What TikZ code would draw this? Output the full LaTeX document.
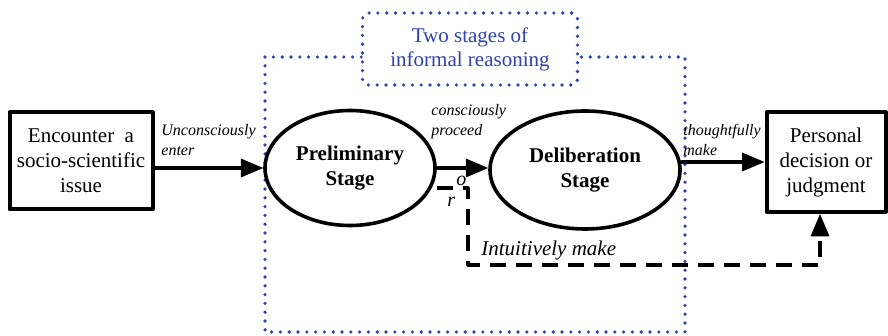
\documentclass[tikz,border=0pt]{standalone}
\usepackage{fontspec}
\setmainfont{Liberation Serif}
\usetikzlibrary{arrows,shapes.geometric}
\definecolor{dotblue}{RGB}{48,66,172}

\begin{document}
\begin{tikzpicture}[line cap=round,line join=round,>=triangle 45,x=0.5pt,y=-0.5pt,
	stbox/.style={draw,line width=2pt,align=center,inner sep=0pt,font=\fontsize{10.5}{12.5}\selectfont},
	stage/.style={draw,ellipse,line width=1.8pt,align=center,inner sep=0pt,font=\fontsize{10.5}{12.5}\selectfont\bfseries},
	flow/.style={->,line width=1.6pt},
	intu/.style={->,line width=1.6pt,dash pattern=on 8pt off 5pt,line cap=butt},
	lbl/.style={anchor=west,align=left,inner sep=0pt,font=\fontsize{8}{10}\selectfont\itshape},
	dotline/.style={dotblue,line width=1.8pt,dash pattern=on 0pt off 4.4pt,line cap=round}]
	\useasboundingbox (0,0) rectangle (888,336);
	% region of the two stages
	\draw [dotline] (265,57) rectangle (685,332);
	\node [dotline,draw,fill=white,rounded corners=3pt,minimum width=107.5pt,minimum height=36pt,align=center,
		text=dotblue,font=\fontsize{10.5}{12}\selectfont] (title) at (470,49) {Two stages of\\informal reasoning};
	% boxes and stages
	\node [stbox,minimum width=71.5pt,minimum height=48.5pt] (enc) at (81,161) {Encounter~~a\\socio-scientific\\issue};
	\node [stage,minimum width=85pt,minimum height=57.5pt] (pre) at (350,168) {Preliminary\\Stage};
	\node [stage,minimum width=95pt,minimum height=59pt] (del) at (585,170) {Deliberation\\Stage};
	\node [stbox,minimum width=59.5pt,minimum height=50pt] (dec) at (826,162) {Personal\\decision or\\judgment};
	% connectors
	\draw [flow] (enc.east |- pre.west) -- (pre.west);
	\draw [flow] (pre.east) -- (pre.east -| del.west);
	\draw [flow] (del.east |- dec.west) -- (dec.west);
	\coordinate (brk) at (437,188);
	\draw [intu] (brk) -| (468,265) -| ([xshift=-3pt]dec.south);
	% labels
	\node [lbl] (l1) at (161,140) {Unconsciously\\enter};
	\node [lbl] (l2) at (431,122) {consciously\\proceed};
	\node [lbl] (l3) at (683,140) {thoughtfully\\make};
	\node [lbl,font=\fontsize{10.5}{12}\selectfont\itshape] (l4) at (481,250) {Intuitively make};
	\node [lbl,font=\fontsize{10}{12}\selectfont\itshape] (o) at (456,181) {o};
	\node [lbl,font=\fontsize{10}{12}\selectfont\itshape] (r) at (447,202) {r};
\end{tikzpicture}
\end{document}
